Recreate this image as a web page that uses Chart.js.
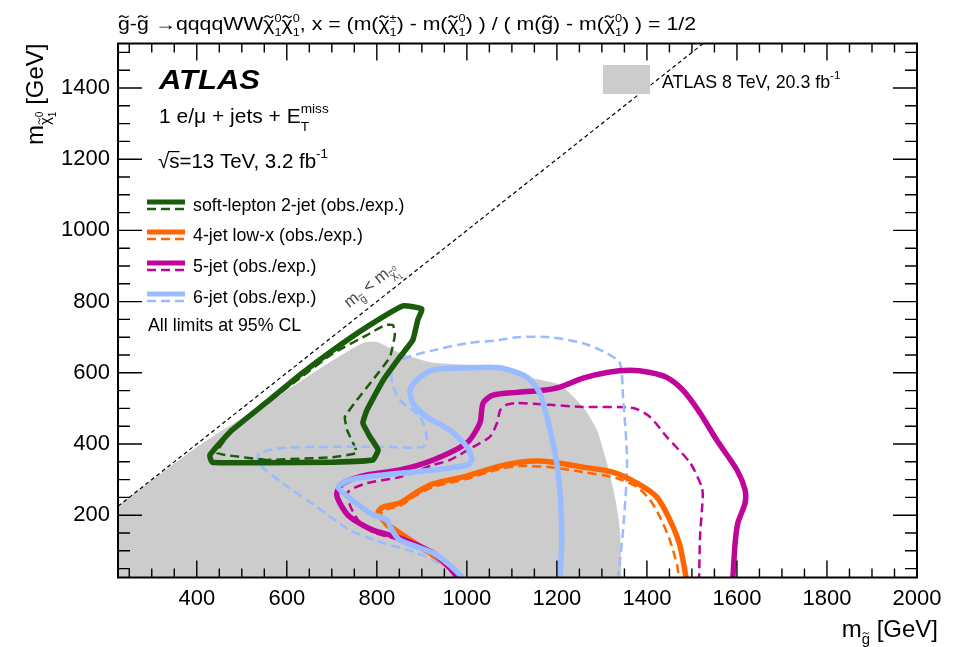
<!DOCTYPE html>
<html>
<head>
<meta charset="utf-8">
<script src="https://cdn.jsdelivr.net/npm/chart.js@4.4.1/dist/chart.umd.min.js"></script>
<style>
  html, body { margin: 0; padding: 0; background: #fff; }
  #limits { display: block; }
</style>
</head>
<body>
<canvas id="limits" width="964" height="647"></canvas>
<script>
// axis ranges and labelled ticks (GeV)
const xRange = [225, 2000];
const yRange = [25, 1525];
const xTickValues = [400, 600, 800, 1000, 1200, 1400, 1600, 1800, 2000];
const yTickValues = [200, 400, 600, 800, 1000, 1200, 1400];

// kinematic boundary m(gluino) = m(neutralino)
const kinLimit = [[225, 225], [1525, 1525]];

// ATLAS 8 TeV, 20.3 fb-1 excluded region (upper edge)
const run1Excl = [[225, 226], [407, 397], [585, 538], [696, 630], [769, 684], [802, 686], [851, 656],
  [925, 628], [1074, 617], [1147, 585], [1207, 566], [1258, 504], [1289, 439], [1311, 347],
  [1329, 251], [1340, 158], [1344, 25]];

// 13 TeV contours: [m(gluino), m(neutralino)]
const softLepObs = [[556, 347], [434, 349], [429, 369], [474, 434], [556, 518], [629, 594], [703, 664],
  [778, 729], [858, 788], [900, 779], [891, 749], [880, 692], [851, 644], [814, 579], [778, 495],
  [769, 459], [785, 420], [803, 383], [791, 355], [703, 349], [556, 347]];
const softLepExp = [[556, 355], [445, 375], [480, 439], [556, 515], [629, 585], [703, 655], [778, 706],
  [818, 734], [836, 734], [840, 706], [829, 644], [791, 580], [756, 524], [729, 476], [734, 439],
  [751, 392], [756, 375], [703, 363], [556, 355]];

const jet4Obs = [[989, 25], [962, 54], [925, 88], [851, 150], [818, 181], [803, 209], [814, 223],
  [851, 234], [889, 265], [925, 288], [1000, 310], [1073, 338], [1118, 349], [1162, 352], [1207, 346],
  [1258, 335], [1324, 321], [1378, 290], [1422, 251], [1451, 187], [1473, 116], [1487, 25]];
const jet4Exp = [[985, 25], [958, 54], [922, 85], [851, 144], [818, 172], [807, 201], [818, 215],
  [851, 226], [889, 257], [925, 279], [1000, 302], [1073, 330], [1118, 338], [1185, 335], [1258, 321],
  [1333, 304], [1378, 279], [1407, 243], [1429, 195], [1451, 130], [1467, 60], [1471, 25]];

const jet5Obs = [[980, 25], [962, 52], [925, 94], [851, 136], [791, 158], [740, 195], [718, 234],
  [711, 262], [725, 290], [778, 313], [851, 327], [925, 355], [1000, 403], [1029, 459], [1036, 515],
  [1058, 537], [1111, 545], [1169, 551], [1207, 560], [1258, 585], [1311, 601], [1362, 607],
  [1407, 601], [1444, 587], [1480, 551], [1518, 487], [1555, 411], [1600, 327], [1618, 271],
  [1618, 234], [1602, 178], [1596, 122], [1591, 25]];
const jet5Exp = [[976, 25], [958, 52], [925, 88], [851, 130], [791, 153], [758, 187], [740, 229],
  [736, 265], [778, 290], [851, 307], [925, 341], [962, 355], [1014, 392], [1051, 420], [1067, 459],
  [1074, 495], [1087, 510], [1111, 515], [1185, 510], [1258, 504], [1369, 501], [1407, 476],
  [1444, 420], [1496, 347], [1522, 279], [1524, 251], [1518, 139], [1516, 25]];

const jet6Obs = [[991, 25], [962, 60], [925, 94], [851, 130], [834, 158], [822, 186], [785, 206],
  [745, 243], [714, 279], [740, 299], [814, 313], [925, 327], [1000, 341], [1011, 355], [1000, 392],
  [962, 439], [911, 476], [880, 515], [874, 552], [889, 580], [925, 608], [1000, 614], [1073, 614],
  [1133, 588], [1162, 543], [1185, 439], [1202, 327], [1209, 223], [1211, 130], [1207, 25]];
const jet6Exp = [[991, 25], [969, 46], [889, 94], [814, 122], [740, 158], [667, 223], [591, 290],
  [534, 349], [540, 374], [591, 389], [703, 392], [814, 392], [902, 392], [911, 420], [896, 476],
  [851, 524], [834, 572], [836, 616], [867, 643], [925, 663], [1000, 683], [1073, 692], [1111, 700],
  [1185, 700], [1258, 683], [1311, 655], [1340, 627], [1347, 532], [1356, 347], [1347, 158],
  [1336, 25]];

const GREEN = '#1b5c0c';
const ORANGE = '#ff6600';
const MAGENTA = '#c0059b';
const LIGHTBLUE = '#99bbff';
const GREY = '#cccccc';
const FONT = '"Liberation Sans", Arial, Helvetica, sans-serif';

const pts = arr => arr.map(([x, y]) => ({ x, y }));

function contour(arr, color, dashed, order, tension) {
  return {
    data: pts(arr),
    showLine: true,
    borderColor: color,
    borderWidth: dashed ? 2.5 : 5.5,
    borderDash: dashed ? [9, 5] : [],
    borderJoinStyle: 'round',
    tension: tension,
    fill: false,
    pointRadius: 0,
    clip: 0,
    order: order
  };
}

const datasets = [
  contour(jet6Obs, LIGHTBLUE, false, 1, 0.25),
  contour(jet5Obs, MAGENTA, false, 2, 0.25),
  contour(jet4Obs, ORANGE, false, 3, 0.25),
  contour(softLepObs, GREEN, false, 4, 0.12),
  contour(jet6Exp, LIGHTBLUE, true, 5, 0.25),
  contour(jet5Exp, MAGENTA, true, 6, 0.25),
  contour(jet4Exp, ORANGE, true, 7, 0.25),
  contour(softLepExp, GREEN, true, 8, 0.12),
  {
    data: pts(kinLimit), showLine: true, borderColor: '#000', borderWidth: 1.2,
    borderDash: [4, 3], pointRadius: 0, fill: false, order: 9
  },
  {
    data: pts(run1Excl), showLine: true, borderWidth: 0, borderColor: GREY,
    backgroundColor: GREY, fill: 'start', tension: 0.2, pointRadius: 0, order: 10
  }
];

// ---- text with sub/superscripts and tildes ----
function tilde(ctx, cx, cy, w, s) {
  const hw = w / 2, a = s * 0.05;
  ctx.save();
  ctx.lineWidth = Math.max(0.8, s * 0.065);
  ctx.beginPath();
  ctx.moveTo(cx - hw, cy + a);
  ctx.quadraticCurveTo(cx - hw / 2, cy - 2.2 * a, cx, cy);
  ctx.quadraticCurveTo(cx + hw / 2, cy + 2.2 * a, cx + hw, cy - a);
  ctx.stroke();
  ctx.restore();
}

function drawRich(ctx, parts, x, y, size, o = {}) {
  const fontOf = s => `${o.weight || ''} ${s}px ${FONT}`;
  let cur = 0, prevStart = 0, prevEnd = 0;
  const items = parts.map(p => (typeof p === 'string' ? { t: p } : p)).map(p => {
    const s = size * (p.s || 1);
    ctx.font = fontOf(s);
    const w = ctx.measureText(p.t).width;
    const start = p.st ? prevStart : cur;
    const end = p.st ? Math.max(prevEnd, start + w) : start + w;
    prevStart = start; prevEnd = end; cur = end;
    return { p, s, start, w };
  });
  const total = cur;
  const k = o.fit ? o.fit / total : 1;
  const shift = o.align === 'right' ? -total * k : (o.align === 'center' ? -total * k / 2 : 0);
  ctx.save();
  ctx.translate(x, y);
  if (o.rot) ctx.rotate(o.rot);
  ctx.translate(shift, 0);
  ctx.scale(k, 1);
  ctx.fillStyle = ctx.strokeStyle = o.color || '#000';
  ctx.textBaseline = 'alphabetic';
  ctx.textAlign = 'left';
  items.forEach(({ p, s, start, w }) => {
    const dy = (p.dy || 0) * size;
    ctx.font = fontOf(s);
    ctx.fillText(p.t, start, dy);
    if (p.tl) tilde(ctx, start + w / 2, dy - s * 0.74, Math.max(w * 0.8, s * 0.4), s);
    if (p.ov) {
      ctx.lineWidth = s * 0.06;
      ctx.beginPath();
      ctx.moveTo(start - 1, dy - s * 0.8);
      ctx.lineTo(start + w, dy - s * 0.8);
      ctx.stroke();
    }
  });
  ctx.restore();
}

const chi = (up, lo) => [{ t: 'χ', tl: 1 }, { t: up, s: 0.6, dy: -0.42 }, { t: lo, s: 0.6, dy: 0.32, st: 1 }];

const titleParts = [{ t: 'g', tl: 1 }, '-', { t: 'g', tl: 1 }, ' →qqqqWW', ...chi('0', '1'), ...chi('0', '1'),
  ', x = (m(', ...chi('±', '1'), ') - m(', ...chi('0', '1'), ') ) / ( m(', { t: 'g', tl: 1 }, ') - m(',
  ...chi('0', '1'), ') ) = 1/2'];

const legendRows = [
  { color: GREEN, text: 'soft-lepton 2-jet (obs./exp.)', y: 205 },
  { color: ORANGE, text: '4-jet low-x (obs./exp.)', y: 235 },
  { color: MAGENTA, text: '5-jet (obs./exp.)', y: 266 },
  { color: LIGHTBLUE, text: '6-jet (obs./exp.)', y: 297 }
];

const decorations = {
  id: 'decorations',
  afterDraw(chart) {
    const ctx = chart.ctx;
    const { left, right, top, bottom } = chart.chartArea;
    const xs = chart.scales.x, ys = chart.scales.y;

    // inward ticks on all four sides
    ctx.save();
    ctx.strokeStyle = '#000';
    ctx.lineWidth = 1.4;
    ctx.beginPath();
    for (let v = 250; v <= xRange[1]; v += 50) {
      const px = xs.getPixelForValue(v);
      const len = v % 200 === 0 ? 17 : 9;
      ctx.moveTo(px, bottom); ctx.lineTo(px, bottom - len);
      ctx.moveTo(px, top); ctx.lineTo(px, top + len);
    }
    for (let v = 50; v <= 1500; v += 50) {
      const py = ys.getPixelForValue(v);
      const len = v % 200 === 0 ? 24 : 12;
      ctx.moveTo(left, py); ctx.lineTo(left + len, py);
      ctx.moveTo(right, py); ctx.lineTo(right - len, py);
    }
    ctx.stroke();
    ctx.lineWidth = 2;
    ctx.strokeRect(left, top, right - left, bottom - top);
    ctx.restore();

    // title and axis titles
    drawRich(ctx, titleParts, left, 30, 18, { fit: 578 });
    drawRich(ctx, ['m', { t: 'g', s: 0.62, dy: 0.3, tl: 1 }, ' [GeV]'], 938, 637, 24, { align: 'right' });
    drawRich(ctx, ['m', { t: 'χ', s: 0.62, dy: 0.3, tl: 1 }, { t: '0', s: 0.42, dy: -0.02 },
      { t: '1', s: 0.42, dy: 0.55, st: 1 }, ' [GeV]'], 43, top, 24, { align: 'right', rot: -Math.PI / 2 });

    // labels
    drawRich(ctx, ['ATLAS'], 159, 89, 27, { weight: 'bold italic', fit: 101 });
    drawRich(ctx, ['1 e/μ + jets + E', { t: 'miss', s: 0.65, dy: -0.5 }, { t: 'T', s: 0.65, dy: 0.38, st: 1 }],
      159, 123, 21);
    drawRich(ctx, ['√', { t: 's', ov: 1 }, '=13 TeV, 3.2 fb', { t: '-1', s: 0.65, dy: -0.5 }], 158, 168, 20.5);

    // legend for the 13 TeV contours
    ctx.save();
    ctx.lineCap = 'butt';
    legendRows.forEach(r => {
      ctx.strokeStyle = r.color;
      ctx.lineWidth = 5;
      ctx.setLineDash([]);
      ctx.beginPath(); ctx.moveTo(147, r.y - 3); ctx.lineTo(185, r.y - 3); ctx.stroke();
      ctx.lineWidth = 2.5;
      ctx.setLineDash([9, 5]);
      ctx.beginPath(); ctx.moveTo(147, r.y + 4); ctx.lineTo(185, r.y + 4); ctx.stroke();
      drawRich(ctx, [r.text], 193, r.y + 6, 17.8);
    });
    ctx.restore();
    drawRich(ctx, ['All limits at 95% CL'], 148, 331, 17.8);

    // 8 TeV legend box
    ctx.fillStyle = GREY;
    ctx.fillRect(603, 65, 47, 29);
    drawRich(ctx, ['ATLAS 8 TeV, 20.3 fb', { t: '-1', s: 0.65, dy: -0.5 }], 662, 88, 17.8);

    // label along the kinematic boundary
    const ax = xs.getPixelForValue(755), ay = ys.getPixelForValue(755);
    const bx = xs.getPixelForValue(1200), by = ys.getPixelForValue(1200);
    const ang = Math.atan2(by - ay, bx - ax);
    const off = 12;
    drawRich(ctx, ['m', { t: 'g', s: 0.65, dy: 0.3, tl: 1 }, ' < m', { t: 'χ', s: 0.65, dy: 0.3, tl: 1 },
      { t: '0', s: 0.45, dy: -0.05 }, { t: '1', s: 0.45, dy: 0.55, st: 1 }],
      ax + off * Math.sin(ang), ay - off * Math.cos(ang), 16.5, { rot: ang, color: '#444' });
  }
};

const tickFont = { family: FONT, size: 22 };

new Chart(document.getElementById('limits').getContext('2d'), {
  type: 'scatter',
  data: { datasets },
  options: {
    responsive: false,
    animation: false,
    events: [],
    layout: { padding: { left: 0, right: 47, top: 43.5, bottom: 0 } },
    plugins: { legend: { display: false }, tooltip: { enabled: false } },
    scales: {
      x: {
        type: 'linear', min: xRange[0], max: xRange[1],
        grid: { display: false, drawTicks: false }, border: { display: false },
        ticks: { font: tickFont, color: '#000', padding: 8, maxRotation: 0, autoSkip: false, callback: v => String(v) },
        afterBuildTicks: s => { s.ticks = xTickValues.map(v => ({ value: v })); },
        afterFit: s => { s.height = 69.5; }
      },
      y: {
        type: 'linear', min: yRange[0], max: yRange[1],
        grid: { display: false, drawTicks: false }, border: { display: false },
        ticks: { font: tickFont, color: '#000', padding: 8, autoSkip: false, callback: v => String(v) },
        afterBuildTicks: s => { s.ticks = yTickValues.map(v => ({ value: v })); },
        afterFit: s => { s.width = 118; }
      }
    }
  },
  plugins: [decorations]
});
</script>
</body>
</html>
